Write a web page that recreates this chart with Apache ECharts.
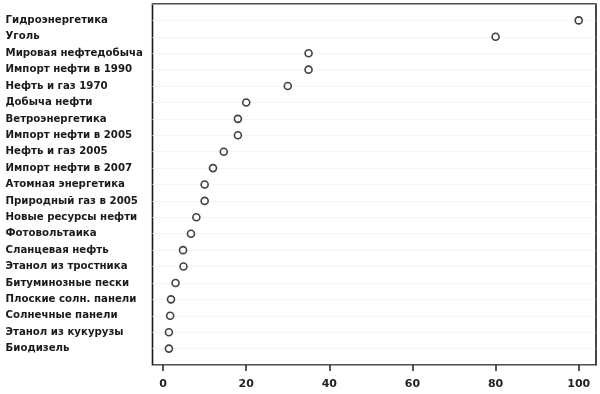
<!DOCTYPE html>
<html>
<head>
<meta charset="utf-8">
<script src="https://cdn.jsdelivr.net/npm/echarts@6/dist/echarts.min.js"></script>
<style>
html,body{margin:0;padding:0;background:#fff;}
#chart{width:600px;height:394px;}
</style>
</head>
<body>
<div id="chart"></div>
<script>
const categories = [
  "Гидроэнергетика",
  "Уголь",
  "Мировая нефтедобыча",
  "Импорт нефти в 1990",
  "Нефть и газ 1970",
  "Добыча нефти",
  "Ветроэнергетика",
  "Импорт нефти в 2005",
  "Нефть и газ 2005",
  "Импорт нефти в 2007",
  "Атомная энергетика",
  "Природный газ в 2005",
  "Новые ресурсы нефти",
  "Фотовольтаика",
  "Сланцевая нефть",
  "Этанол из тростника",
  "Битуминозные пески",
  "Плоские солн. панели",
  "Солнечные панели",
  "Этанол из кукурузы",
  "Биодизель"
];
const values = [100, 80, 35, 35, 30, 20, 18, 18, 14.6, 12, 10, 10, 8, 6.7, 4.8, 4.9, 3, 1.9, 1.7, 1.4, 1.4];
const xTicks = [0, 20, 40, 60, 80, 100];

const data = values.map((v, i) => [v, i]);

const chart = echarts.init(document.getElementById('chart'), null, {renderer: 'canvas'});
chart.setOption({
  animation: false,
  backgroundColor: '#fff',
  grid: {
    left: 152.5, right: 4, top: 4, bottom: 29,
    show: true, borderColor: '#1a1a1a', borderWidth: 1.6, backgroundColor: 'transparent'
  },
  xAxis: {
    type: 'value',
    position: 'bottom',
    min: -2.55,
    max: 104.16,
    axisLine: {show: false, onZero: false},
    splitLine: {show: false},
    axisTick: {show: true, length: 6, customValues: xTicks, lineStyle: {color: '#222', width: 1.5}},
    axisLabel: {
      customValues: xTicks, margin: 14,
      fontFamily: 'DejaVu Sans', fontSize: 11, fontWeight: 'bold', color: '#222'
    }
  },
  yAxis: {
    type: 'value',
    inverse: true,
    min: -1,
    max: 21,
    interval: 1,
    axisLine: {show: false, onZero: false},
    axisTick: {show: false},
    splitLine: {show: true, lineStyle: {color: '#ececec', type: 'dotted', width: 1}},
    axisLabel: {
      align: 'left',
      margin: 147,
      fontFamily: 'DejaVu Sans', fontSize: 10.2, fontWeight: 'bold', color: '#1a1a1a',
      formatter: function (v) {
        const i = Math.round(v);
        return (i >= 0 && i < categories.length && Math.abs(v - i) < 1e-6) ? categories[i] : '';
      }
    }
  },
  series: [{
    type: 'scatter',
    data: data,
    symbol: 'circle',
    symbolSize: 7,
    itemStyle: {color: '#fff', borderColor: '#111', borderWidth: 1.6}
  }]
});
</script>
</body>
</html>
